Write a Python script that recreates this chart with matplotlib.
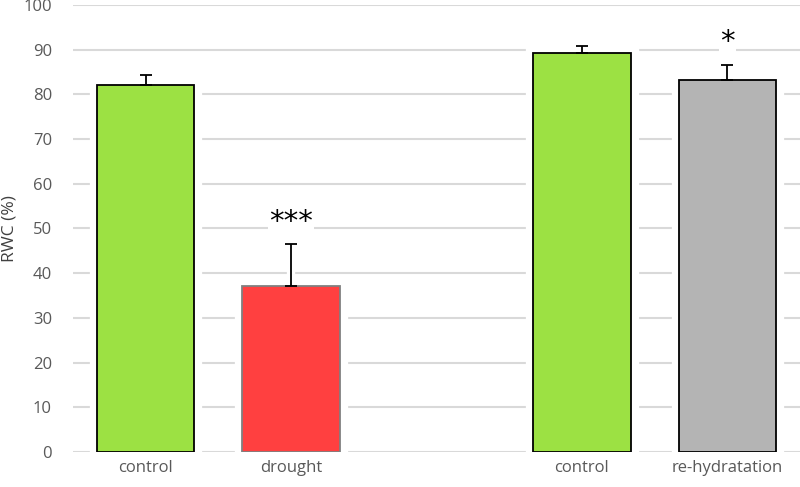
import matplotlib.pyplot as plt
import matplotlib.patheffects as pe

# RWC data
labels = ['control', 'drought', 'control', 're-hydratation']
positions = [0, 1, 3, 4]
values = [82.0, 37.2, 89.3, 83.2]
errors = [2.3, 9.3, 1.6, 3.4]
stars = ['', '***', '', '*']
fills = ['#9ce143', '#ff4040', '#9ce143', '#b4b4b4']
edges = ['#000000', '#808080', '#000000', '#000000']

plt.rcParams['font.family'] = ['Open Sans', 'DejaVu Sans']

fig = plt.figure(figsize=(8, 4.87), dpi=100)
ax = fig.add_axes([0.091, 0.072, 0.909, 0.918])

bars = ax.bar(positions, values, width=0.67, color=fills, edgecolor=edges,
              linewidth=1.3, zorder=3)
for bar in bars:
    bar.set_path_effects([pe.withStroke(linewidth=11, foreground='white')])

# white halo behind the error bars, then the bars themselves on top
up = [[0] * len(errors), errors]
ax.errorbar(positions, values, yerr=up, fmt='none', ecolor='white',
            elinewidth=6, capsize=4, capthick=6, zorder=2.5)
ax.errorbar(positions, values, yerr=up, fmt='none', ecolor='black',
            elinewidth=1.3, capsize=4, capthick=1.3, zorder=4)

for x, v, e, s in zip(positions, values, errors, stars):
    if s:
        ax.text(x, v + e + 5, s, ha='center', va='center', fontsize=21,
                family='DejaVu Sans', zorder=4,
                bbox=dict(facecolor='white', edgecolor='none', pad=1))

ax.set_ylim(0, 100)
ax.set_xlim(-0.5, 4.5)
ax.set_yticks(range(0, 101, 10))
ax.set_xticks(positions)
ax.set_xticklabels(labels)
ax.yaxis.grid(True, color='#d9d9d9', linewidth=1.5, zorder=0)
ax.set_axisbelow(True)
for sp in ax.spines.values():
    sp.set_visible(False)
ax.tick_params(length=0, labelsize=12, colors='#595959', pad=6)
ax.tick_params(axis='y', pad=15)
ax.set_ylabel('RWC (%)', fontsize=12.5, color='#404040')
ax.yaxis.set_label_coords(-0.076, 0.5)

fig.savefig('out.png', dpi=100)
